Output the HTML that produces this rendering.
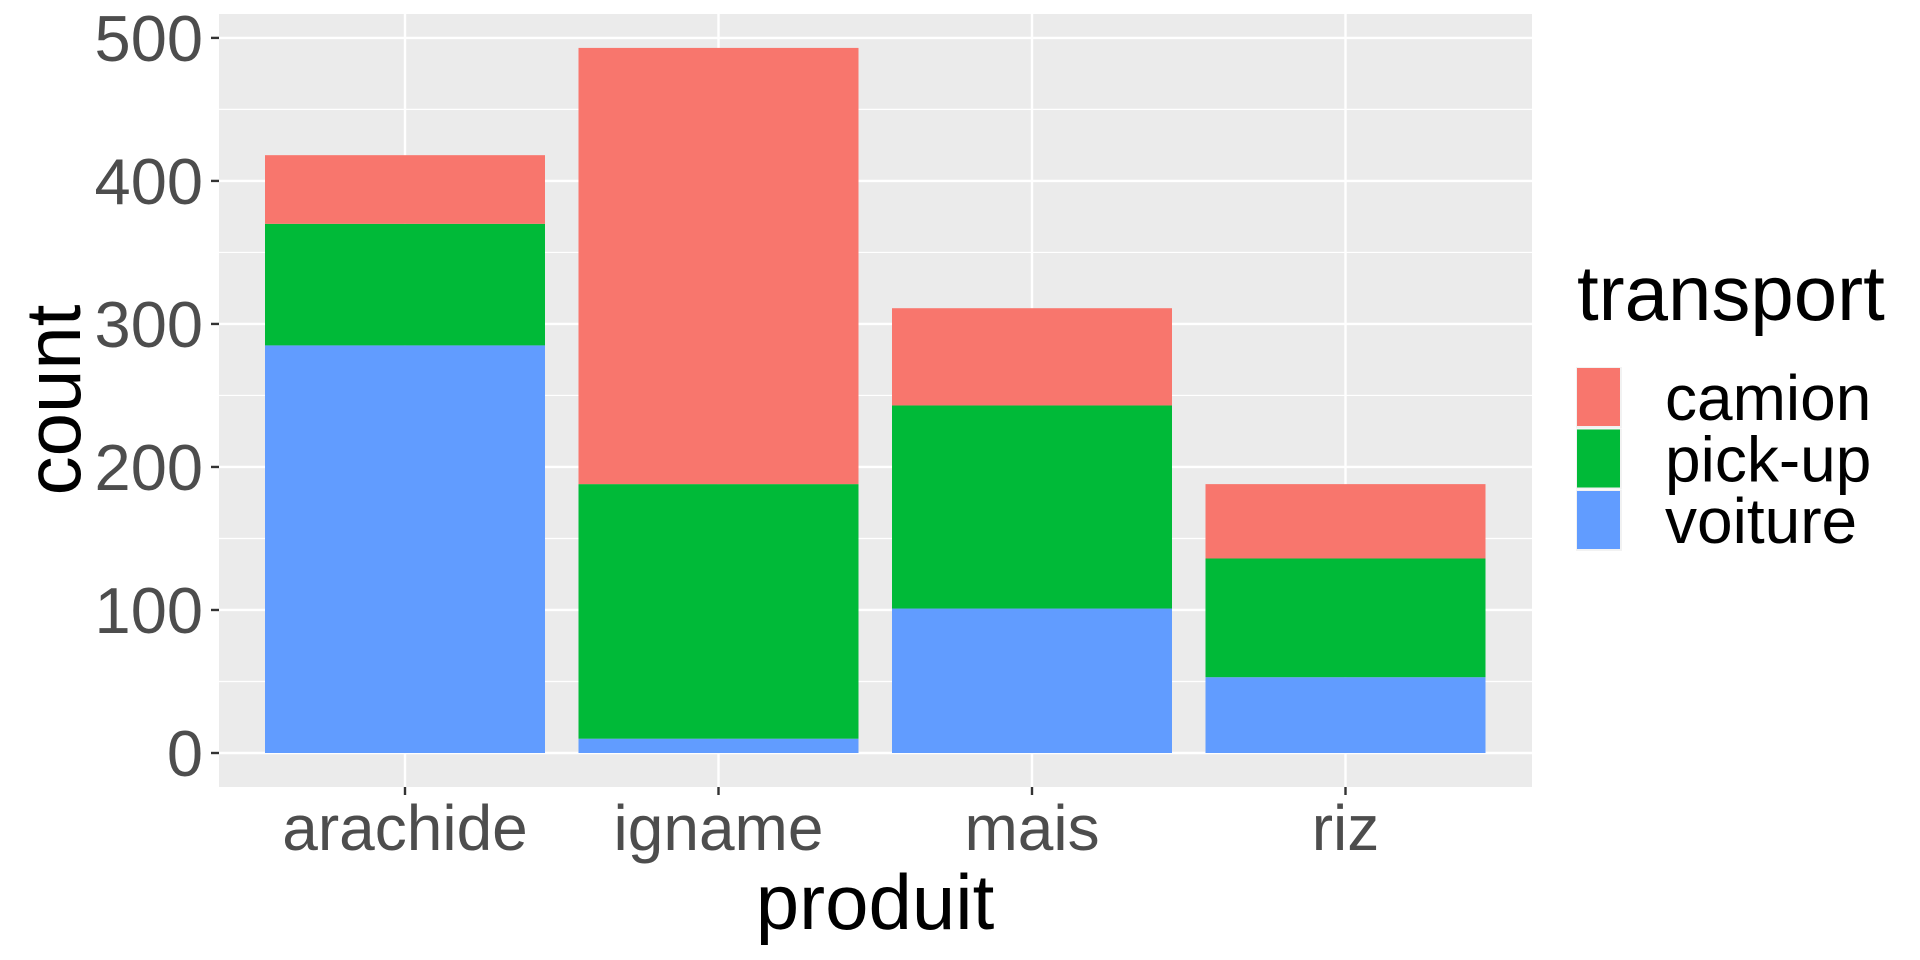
<!DOCTYPE html>
<html><head><meta charset="utf-8"><style>
html,body{margin:0;padding:0;background:#fff;}
svg{display:block;font-family:"Liberation Sans",Arial,sans-serif;}
</style></head><body>
<svg id="chart" width="1920" height="960" xmlns="http://www.w3.org/2000/svg">
<rect x="219" y="14" width="1313" height="773" fill="#EBEBEB"/>
<g id="grid"></g><g id="bars"></g><g id="axes"></g>
<text x="80" y="400" font-size="78" fill="#000" text-anchor="middle" transform="rotate(-90 80 400)">count</text>
<text x="875" y="929" font-size="78" fill="#000" text-anchor="middle">produit</text>
<g>
<text x="1577" y="320" font-size="78" fill="#000">transport</text>
<g id="legend"></g>
</g>
</svg>
<script>
const categories = ["arachide","igname","mais","riz"];
const series = ["voiture","pick-up","camion"];
const voiture = [285, 10, 101, 53];
const pickup = [85, 178, 142, 83];
const camion = [48, 305, 68, 52];
const yTicks = [0,100,200,300,400,500];
const colors = {"camion":"#F8766D","pick-up":"#00BA38","voiture":"#619CFF"};
const legendOrder = ["camion","pick-up","voiture"];

const NS="http://www.w3.org/2000/svg";
const y0=753, yPer=1.4302;
function yScale(v){return y0 - v*yPer;}
const xStart=219, step=313.5, bw=280;
function xCenter(i){return xStart + 186 + i*step;}
function mk(tag,attrs,parent){const e=document.createElementNS(NS,tag);for(const k in attrs)e.setAttribute(k,attrs[k]);parent.appendChild(e);return e;}
const grid=document.getElementById('grid'), bars=document.getElementById('bars'), axes=document.getElementById('axes'), legend=document.getElementById('legend');

for(let v=50; v<=550; v+=100){
  const y=yScale(v); if(y<14) continue;
  const l=mk('line',{x1:219,x2:1532,y1:y,y2:y,stroke:'#fff','stroke-width':1.2},grid);
  
  
}
yTicks.forEach(v=>{
  const y=yScale(v);
  const l=mk('line',{x1:219,x2:1532,y1:y,y2:y,stroke:'#fff','stroke-width':2.4},grid);
  
  
  const t=mk('line',{x1:211,x2:219,y1:y,y2:y,stroke:'#333','stroke-width':2.4},axes);
  
  
  const tx=mk('text',{x:203,y:y+23,'font-size':65,fill:'#4D4D4D','text-anchor':'end'},axes);
  tx.textContent=v;
  
  
});
categories.forEach((c,i)=>{
  const x=xCenter(i);
  const g=mk('line',{x1:x,x2:x,y1:14,y2:787,stroke:'#fff','stroke-width':2.4},grid);
  
  
  const t=mk('line',{x1:x,x2:x,y1:787,y2:795,stroke:'#333','stroke-width':2.4},axes);
  
  
  const tx=mk('text',{x:x,y:850,'font-size':64,fill:'#4D4D4D','text-anchor':'middle'},axes);
  tx.textContent=c;
  
  
  const vals={"voiture":voiture[i],"pick-up":pickup[i],"camion":camion[i]};
  let cum=0;
  series.forEach(s=>{
    const v=vals[s];
    const r=mk('rect',{x:x-bw/2,width:bw,y:yScale(cum+v),height:v*yPer,fill:colors[s]},bars);
    
    
    cum+=v;
  });
});
legendOrder.forEach((s,i)=>{
  const y=367+i*61.5;
  const bg=mk('rect',{x:1576,y:y,width:46,height:61,fill:'#F2F2F2'},legend);
  
  
  const r=mk('rect',{x:1577,y:y+1,width:43,height:58,fill:colors[s]},legend);
  
  
  const t=mk('text',{x:1665,y:y+53,'font-size':64,fill:'#000'},legend);
  t.textContent=s;
  
  
});
</script>
</body></html>
